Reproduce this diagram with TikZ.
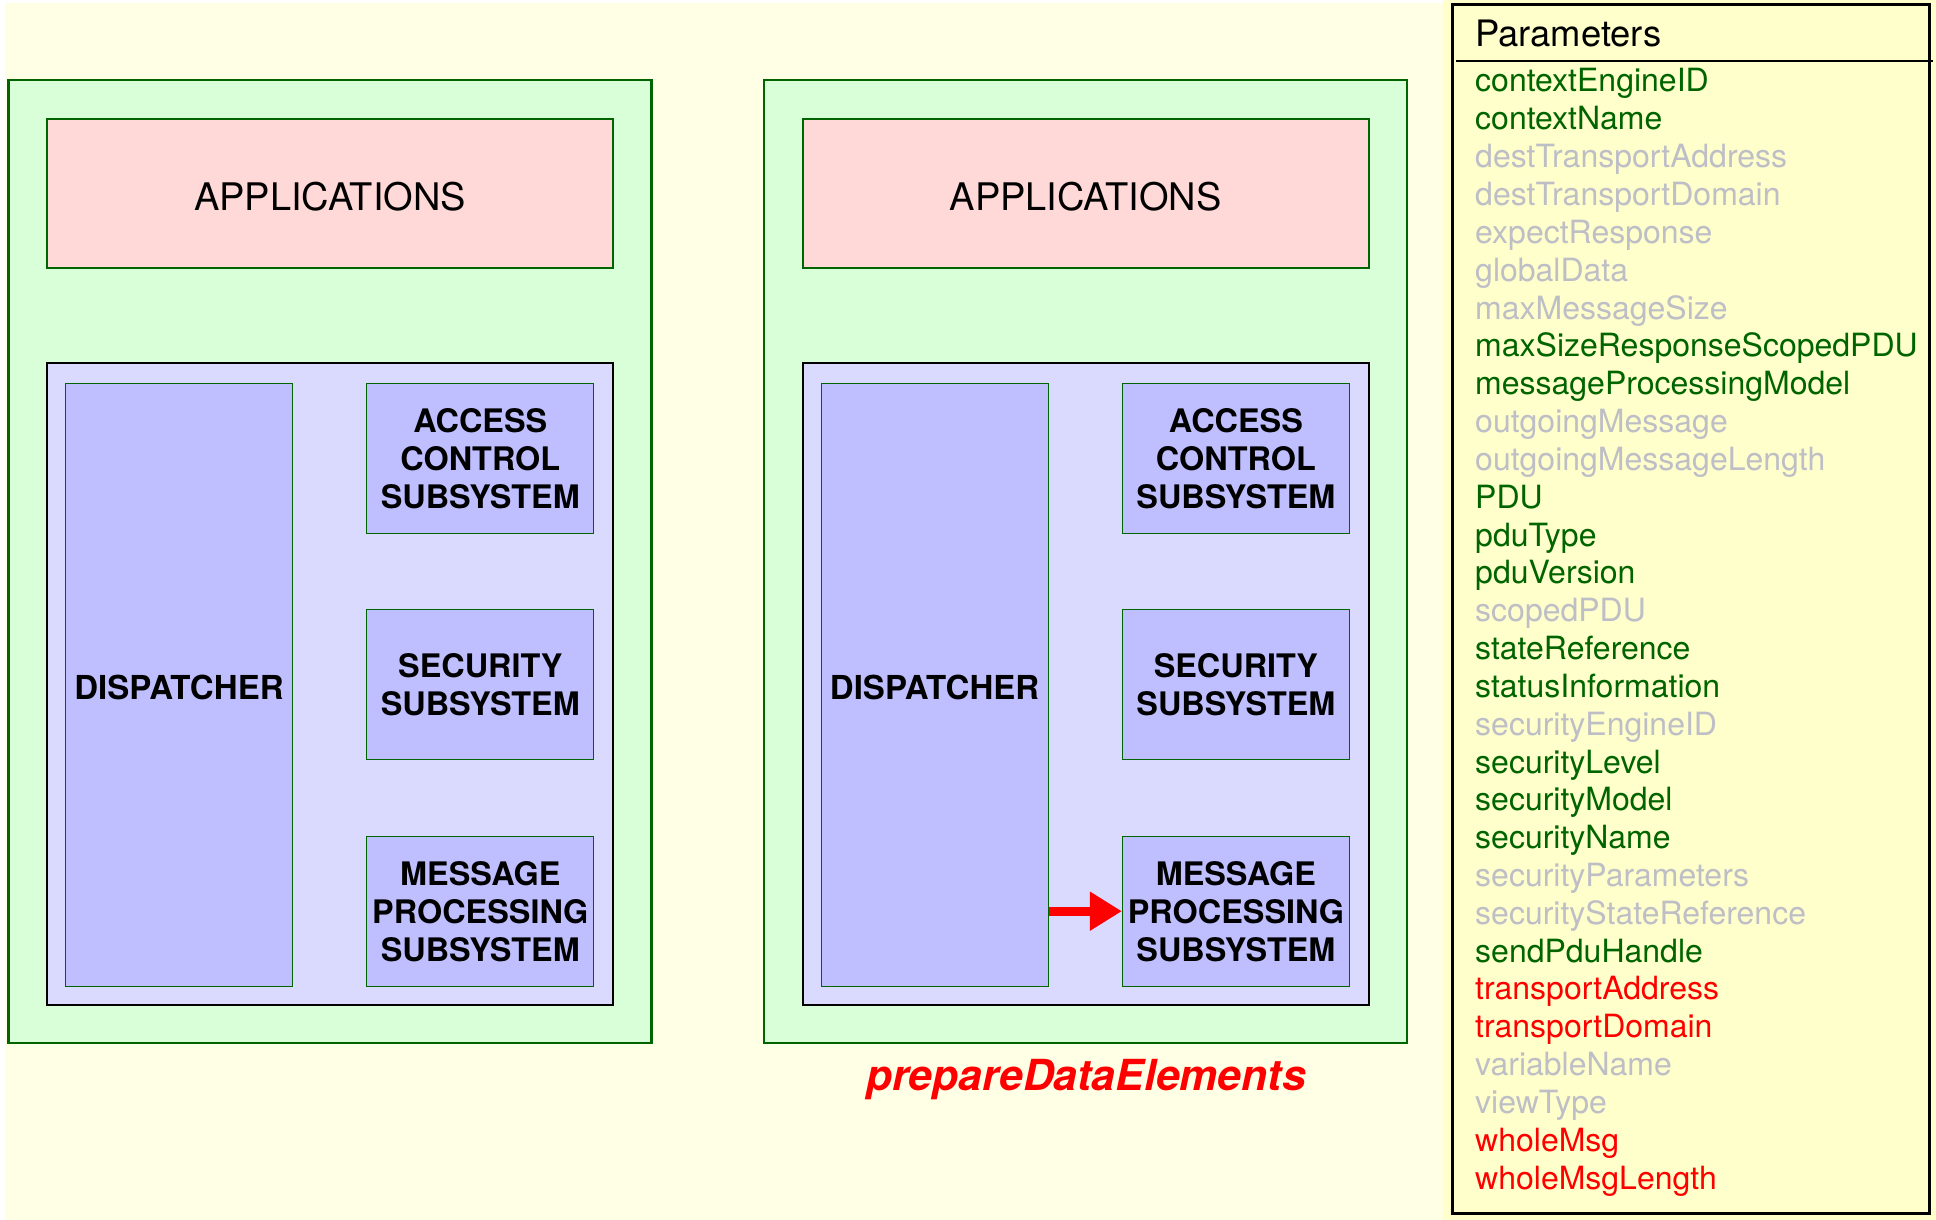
\documentclass[tikz,border=0pt]{standalone}
\usepackage{fontspec}
\setmainfont{TeX Gyre Heros}
\usepackage{xcolor}
\usepackage{tikz}
\usetikzlibrary{arrows.meta}
\definecolor{bgyellow}{RGB}{255,255,230}
\definecolor{panelyellow}{RGB}{255,255,204}
\definecolor{enginegreen}{RGB}{216,255,216}
\definecolor{darkgreen}{RGB}{0,100,0}
\definecolor{apppink}{RGB}{255,216,216}
\definecolor{stacklilac}{RGB}{218,218,255}
\definecolor{sublilac}{RGB}{191,191,255}
\definecolor{unusedgray}{RGB}{190,190,198}

\begin{document}
\begin{tikzpicture}[x=1pt, y=-1pt,
				engine/.style={draw=darkgreen, fill=enginegreen, line width=2.5pt,
					minimum width=643pt, minimum height=963pt},
				apps/.style={draw=darkgreen, fill=apppink, line width=2pt,
					minimum width=566pt, minimum height=149pt,
					text height=35pt, text depth=0pt,
					font=\fontsize{38}{42}\selectfont},
				stack/.style={draw=black, fill=stacklilac, line width=2pt,
					minimum width=566pt, minimum height=642pt},
				sub/.style={draw=darkgreen, fill=sublilac, line width=1pt,
					minimum width=227pt, minimum height=150pt, align=center,
					font=\fontsize{32.4}{38}\selectfont\bfseries},
				disp/.style={sub, minimum height=603pt, text height=30pt, text depth=0pt,
					font=\fontsize{33}{38}\selectfont\bfseries},
				head/.style={anchor=base west, inner sep=0pt,
					font=\fontsize{36.4}{40}\selectfont},
				used/.style={anchor=base west, inner sep=0pt, text=darkgreen,
					font=\fontsize{32}{36}\selectfont},
				unused/.style={used, text=unusedgray},
				changed/.style={used, text=red}]
				\useasboundingbox (0,0) rectangle (1936,1220);
				\fill[bgyellow] (5,3) rectangle (1936,1220);
				\fill[panelyellow] (1443,0) rectangle (1936,1220);
				% left engine
				\node[engine] at (330,561.5) (eng1) {};
				\node[apps] at (330,193.3) (app1) {APPLICATIONS};
				\node[stack] at (330,684) (stk1) {};
				\node[disp] at (179,684.7) (disp1) {DISPATCHER};
				\node[sub] at (480.3,458.2) (acs1) {ACCESS\\CONTROL\\SUBSYSTEM};
				\node[sub] at (480.3,684.5) (sec1) {SECURITY\\SUBSYSTEM};
				\node[sub] at (480.3,911.2) (msg1) {MESSAGE\\PROCESSING\\SUBSYSTEM};
				% right engine
				\node[engine] at (1085.6,561.5) (eng2) {};
				\node[apps] at (1085.6,193.3) (app2) {APPLICATIONS};
				\node[stack] at (1085.6,684) (stk2) {};
				\node[disp] at (934.6,684.7) (disp2) {DISPATCHER};
				\node[sub] at (1235.9,458.2) (acs2) {ACCESS\\CONTROL\\SUBSYSTEM};
				\node[sub] at (1235.9,684.5) (sec2) {SECURITY\\SUBSYSTEM};
				\node[sub] at (1235.9,911.2) (msg2) {MESSAGE\\PROCESSING\\SUBSYSTEM};
				\draw[-{Triangle[length=32pt, width=37pt]}, red, line width=9.3pt]
					(disp2.east |- msg2.west) -- (msg2.west);
				\node[anchor=base, text=red, font=\fontsize{42.8}{46}\selectfont\bfseries\itshape]
					at (1086,1090) (call) {prepareDataElements};
				% parameter list
				\draw[line width=3pt] (1452.5,5) rectangle (1929,1213);
				\draw[line width=2.5pt] (1456,61) -- (1933,61);
				\node[head] at (1475,47) (hd) {Parameters};
				\node[used] at (1475,92) (p1) {contextEngineID};
				\node[used] at (1475,129.8) (p2) {contextName};
				\node[unused] at (1475,167.7) (p3) {destTransportAddress};
				\node[unused] at (1475,205.5) (p4) {destTransportDomain};
				\node[unused] at (1475,243.3) (p5) {expectResponse};
				\node[unused] at (1475,281.2) (p6) {globalData};
				\node[unused] at (1475,319) (p7) {maxMessageSize};
				\node[used] at (1475,356.8) (p8) {maxSizeResponseScopedPDU};
				\node[used] at (1475,394.6) (p9) {messageProcessingModel};
				\node[unused] at (1475,432.5) (p10) {outgoingMessage};
				\node[unused] at (1475,470.3) (p11) {outgoingMessageLength};
				\node[used] at (1475,508.1) (p12) {PDU};
				\node[used] at (1475,546) (p13) {pduType};
				\node[used] at (1475,583.8) (p14) {pduVersion};
				\node[unused] at (1475,621.6) (p15) {scopedPDU};
				\node[used] at (1475,659.5) (p16) {stateReference};
				\node[used] at (1475,697.3) (p17) {statusInformation};
				\node[unused] at (1475,735.1) (p18) {securityEngineID};
				\node[used] at (1475,773) (p19) {securityLevel};
				\node[used] at (1475,810.8) (p20) {securityModel};
				\node[used] at (1475,848.6) (p21) {securityName};
				\node[unused] at (1475,886.4) (p22) {securityParameters};
				\node[unused] at (1475,924.3) (p23) {securityStateReference};
				\node[used] at (1475,962.1) (p24) {sendPduHandle};
				\node[changed] at (1475,999.9) (p25) {transportAddress};
				\node[changed] at (1475,1037.8) (p26) {transportDomain};
				\node[unused] at (1475,1075.6) (p27) {variableName};
				\node[unused] at (1475,1113.4) (p28) {viewType};
				\node[changed] at (1475,1151.3) (p29) {wholeMsg};
				\node[changed] at (1475,1189) (p30) {wholeMsgLength};
			\end{tikzpicture}
\end{document}
